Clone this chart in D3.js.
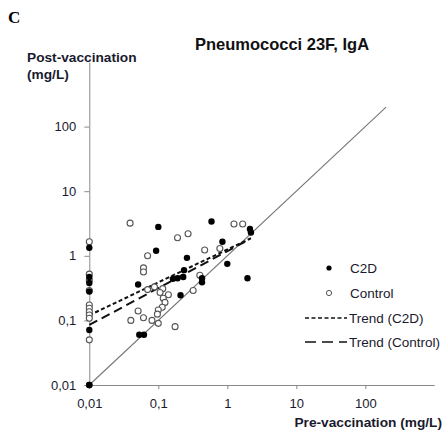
<!DOCTYPE html>
<html><head><meta charset="utf-8">
<script src="https://cdn.jsdelivr.net/npm/d3@7"></script>
<style>
html,body{margin:0;padding:0;background:#fff;}
svg{display:block;font-family:"Liberation Sans",Arial,sans-serif;}
</style></head>
<body>
<svg id="chart" width="448" height="435"></svg>
<script>
// ---- data ----
const xTickValues = [0.01, 0.1, 1, 10, 100];
const xTickLabels = ["0,01", "0,1", "1", "10", "100"];
const yTickValues = [0.01, 0.1, 1, 10, 100];
const yTickLabels = ["0,01", "0,1", "1", "10", "100"];

// C2D (filled) pre / post values
const c2dPre  = [0.01, 0.01, 0.01, 0.01, 0.01, 0.01, 0.01,
                 0.10, 0.59, 0.093, 0.26, 0.85, 2.13, 2.2, 0.051, 0.236, 0.163, 0.19, 0.23, 0.43, 0.43, 1.0, 1.96, 0.21, 0.053, 0.062];
const c2dPost = [1.33, 0.47, 0.38, 0.28, 0.071, 0.01, 0.01,
                 2.8, 3.4, 1.2, 0.93, 1.65, 2.6, 2.3, 0.36, 0.60, 0.44, 0.45, 0.47, 0.45, 0.39, 0.75, 0.45, 0.245, 0.06, 0.06];

// Control (open) pre / post values
const ctlPre  = [0.01, 0.01, 0.01, 0.01, 0.01, 0.01, 0.01, 0.01, 0.01, 0.01,
                 0.039, 0.19, 0.27, 0.07, 0.061, 0.061, 1.25, 1.67, 0.47, 0.78, 0.40, 0.32, 0.07, 0.088, 0.116, 0.14, 0.106, 0.118, 0.125, 0.114, 0.10, 0.097, 0.051, 0.061, 0.04, 0.081, 0.10, 0.175];
const ctlPost = [1.65, 0.52, 0.42, 0.29, 0.173, 0.154, 0.136, 0.121, 0.108, 0.05,
                 3.2, 1.9, 2.2, 1.0, 0.65, 0.56, 3.1, 3.1, 1.23, 1.3, 0.50, 0.29, 0.30, 0.33, 0.31, 0.25, 0.27, 0.22, 0.19, 0.16, 0.145, 0.125, 0.14, 0.11, 0.1, 0.1, 0.09, 0.08];

// trend lines (endpoints) and identity line
const trendC2DPre  = [0.01, 2.2];
const trendC2DPost = [0.12, 1.87];
const trendCtlPre  = [0.01, 1.8];
const trendCtlPost = [0.085, 1.65];
const identityVals = [0.01, 200];

const legendLabels = ["C2D", "Control", "Trend (C2D)", "Trend (Control)"];

// ---- drawing ----
const svg = d3.select("#chart");
const x = d3.scaleLog().domain([0.01, 1000]).range([89.3, 434.3]);
const y = d3.scaleLog().domain([0.01, 1000]).range([385, 62]);
const textCol = "#1a1a2e";

// panel letter
svg.append("text").attr("x", 8).attr("y", 23)
  .style("font-family", "'Liberation Serif','Times New Roman',serif")
  .style("font-weight", "bold").style("font-size", "17px").text("C");

// title
svg.append("text").attr("x", 282).attr("y", 50).attr("text-anchor", "middle")
  .style("font-weight", "bold").style("font-size", "16.5px").attr("fill", "#111")
  .text("Pneumococci 23F, IgA");

// y axis title
svg.append("text").attr("x", 27).attr("y", 62)
  .style("font-weight", "bold").style("font-size", "13.7px").attr("fill", textCol)
  .text("Post-vaccination");
svg.append("text").attr("x", 27).attr("y", 79)
  .style("font-weight", "bold").style("font-size", "13.7px").attr("fill", textCol)
  .text("(mg/L)");

// x axis title
svg.append("text").attr("x", 442).attr("y", 427).attr("text-anchor", "end")
  .style("font-weight", "bold").style("font-size", "13.7px").attr("fill", textCol)
  .text("Pre-vaccination  (mg/L)");

// axes
const xAxis = d3.axisBottom(x).tickValues(xTickValues)
  .tickFormat((d, i) => xTickLabels[i]).tickSizeInner(4).tickSizeOuter(0).tickPadding(10);
const gx = svg.append("g").attr("transform", "translate(0,385)").call(xAxis);
const yAxis = d3.axisLeft(y).tickValues(yTickValues)
  .tickFormat((d, i) => yTickLabels[i]).tickSizeInner(5).tickSizeOuter(0).tickPadding(8);
const gy = svg.append("g").attr("transform", "translate(89.3,0)").call(yAxis);
[gx, gy].forEach(g => {
  g.select(".domain").attr("stroke", "#8a8a8a");
  g.selectAll(".tick line").attr("stroke", "#8a8a8a");
  g.selectAll(".tick text").attr("fill", textCol)
    .style("font-size", "13px").style("font-family", "'Liberation Sans',Arial,sans-serif");
});

// identity line
svg.append("line")
  .attr("x1", x(identityVals[0])).attr("y1", y(identityVals[0]))
  .attr("x2", x(identityVals[1])).attr("y2", y(identityVals[1]))
  .attr("stroke", "#777").attr("stroke-width", 1.1);

// trend lines
const line = d3.line().x(d => x(d[0])).y(d => y(d[1]));
svg.append("path").datum(trendC2DPre.map((v, i) => [v, trendC2DPost[i]]))
  .attr("d", line).attr("fill", "none").attr("stroke", "#111")
  .attr("stroke-width", 2).attr("stroke-dasharray", "4,2.5");
svg.append("path").datum(trendCtlPre.map((v, i) => [v, trendCtlPost[i]]))
  .attr("d", line).attr("fill", "none").attr("stroke", "#111")
  .attr("stroke-width", 2).attr("stroke-dasharray", "9,5");

// control points (open)
svg.append("g").selectAll("circle")
  .data(ctlPre.map((v, i) => [v, ctlPost[i]]))
  .join("circle").attr("cx", d => x(d[0])).attr("cy", d => y(d[1])).attr("r", 3)
  .attr("fill", "#fff").attr("stroke", "#555").attr("stroke-width", 1.1);

// C2D points (filled)
svg.append("g").selectAll("circle")
  .data(c2dPre.map((v, i) => [v, c2dPost[i]]))
  .join("circle").attr("cx", d => x(d[0])).attr("cy", d => y(d[1])).attr("r", 3.2)
  .attr("fill", "#000");

// legend
const lg = svg.append("g");
const rows = [268, 293, 318, 342];
lg.append("circle").attr("cx", 329).attr("cy", rows[0]).attr("r", 2.6).attr("fill", "#000");
lg.append("circle").attr("cx", 329).attr("cy", rows[1]).attr("r", 2.6)
  .attr("fill", "#fff").attr("stroke", "#555").attr("stroke-width", 1);
lg.append("line").attr("x1", 305).attr("x2", 347).attr("y1", rows[2]).attr("y2", rows[2])
  .attr("stroke", "#111").attr("stroke-width", 1.5).attr("stroke-dasharray", "4,2.5");
lg.append("line").attr("x1", 305).attr("x2", 347).attr("y1", rows[3]).attr("y2", rows[3])
  .attr("stroke", "#111").attr("stroke-width", 1.5).attr("stroke-dasharray", "11,6");
legendLabels.forEach((t, i) => {
  lg.append("text").attr("x", i < 2 ? 350 : 349).attr("y", rows[i]).attr("dy", "0.35em")
    .style("font-size", "13.5px").attr("fill", textCol).text(t);
});
</script>
</body></html>
